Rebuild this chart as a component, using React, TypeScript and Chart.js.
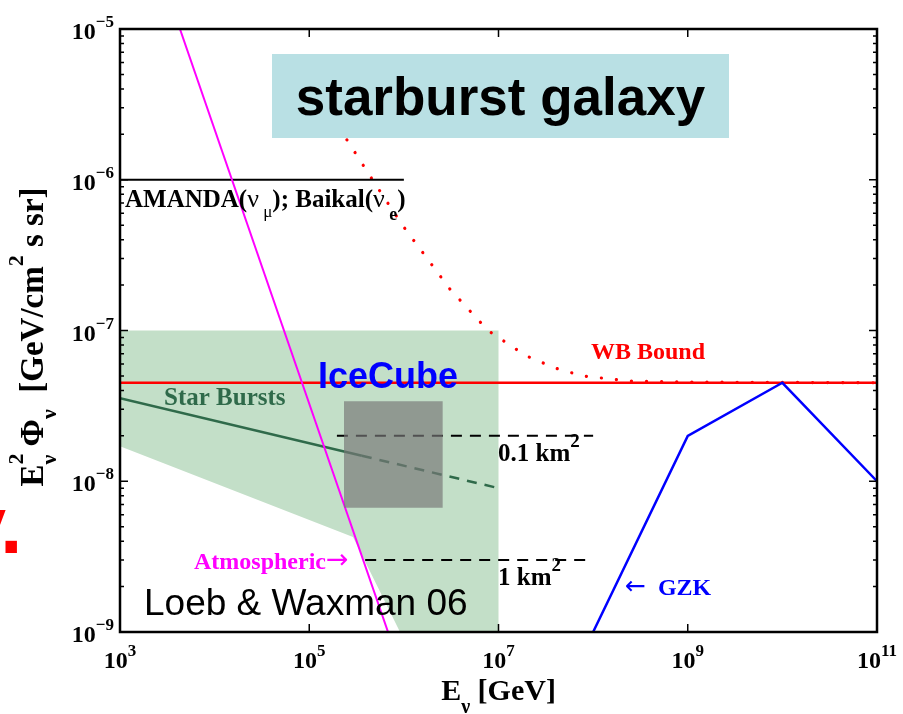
import React, { useEffect, useRef } from "react";
import { Chart, registerables } from "chart.js";

Chart.register(...registerables);

// ---- axes ----
const xMin = 1e3;
const xMax = 1e11;
const yMin = 1e-9;
const yMax = 1e-5;
const xTickExponents = [3, 5, 7, 9, 11];
const yTickExponents = [-9, -8, -7, -6, -5];
const yMinorMultipliers = [2, 3, 4, 5, 6, 7, 8, 9];

// ---- series (E in GeV, E^2 Phi in GeV/cm^2 s sr) ----
const iceCubeRegionE = [1e3, 1e7, 1e7, 9.1e5, 2.9e5, 1e3];
const iceCubeRegionFlux = [1e-7, 1e-7, 1e-9, 1e-9, 4.27e-9, 1.71e-8];

const wbBoundE = [1e3, 1e11];
const wbBoundFlux = [4.5e-8, 4.5e-8];

const wbDottedE = [2.5e5, 4.96e5, 9.8e5, 3.07e6, 7.74e6, 1.95e7, 3.96e7, 7.8e7, 2.45e8, 1e9, 1e11];
const wbDottedFlux = [1.84e-6, 9.4e-7, 4.93e-7, 1.88e-7, 1.0e-7, 6.8e-8, 5.64e-8, 4.99e-8, 4.62e-8, 4.55e-8, 4.5e-8];

const amandaE = [1e3, 1e6];
const amandaFlux = [1e-6, 1e-6];

const km01E = [1.96e5, 1e8];
const km01Flux = [2.0e-8, 2.0e-8];

const km1E = [3.9e5, 1e8];
const km1Flux = [3.0e-9, 3.0e-9];

const starBurstSolidE = [1e3, 3.6e5];
const starBurstSolidFlux = [3.56e-8, 1.476e-8];
const starBurstDashedE = [3.6e5, 1e7];
const starBurstDashedFlux = [1.476e-8, 9.0e-9];

const atmosphericE = [4.3e3, 6.8e5];
const atmosphericFlux = [1e-5, 1e-9];

const gzkE = [1e8, 1e9, 1e10, 1e11];
const gzkFlux = [1e-9, 2e-8, 4.5e-8, 1e-8];

const grayBoxE = [2.33e5, 2.57e6, 2.57e6, 2.33e5];
const grayBoxFlux = [3.4e-8, 3.4e-8, 6.68e-9, 6.68e-9];

const pts = (xs: number[], ys: number[]) => xs.map((x, i) => ({ x, y: ys[i] }));

const SERIF = '"Liberation Serif", "Times New Roman", serif';
const SANS = '"Liberation Sans", Arial, sans-serif';
const ARROW = '"DejaVu Sans", sans-serif';

type Seg = { t: string; size: number; dy?: number; weight?: string; family?: string; noAdv?: boolean };

function segFont(s: Seg) {
  return `${s.weight ?? "bold"} ${s.size}px ${s.family ?? SERIF}`;
}
function richWidth(ctx: CanvasRenderingContext2D, segs: Seg[]) {
  let w = 0;
  for (const s of segs) {
    ctx.font = segFont(s);
    if (!s.noAdv) w += ctx.measureText(s.t).width;
  }
  return w;
}
function drawRich(
  ctx: CanvasRenderingContext2D,
  segs: Seg[],
  x: number,
  y: number,
  color: string,
  align: "left" | "center" | "right" = "left"
) {
  const w = richWidth(ctx, segs);
  let cx = align === "left" ? x : align === "center" ? x - w / 2 : x - w;
  ctx.fillStyle = color;
  ctx.textAlign = "left";
  ctx.textBaseline = "alphabetic";
  for (const s of segs) {
    ctx.font = segFont(s);
    ctx.fillText(s.t, cx, y + (s.dy ?? 0));
    if (!s.noAdv) cx += ctx.measureText(s.t).width;
  }
}

const decorPlugin = {
  id: "decor",
  afterDatasetsDraw(chart: any) {
    const ctx: CanvasRenderingContext2D = chart.ctx;
    const { left, right, top, bottom } = chart.chartArea;
    const xs = chart.scales.x;
    const ys = chart.scales.y;
    ctx.save();

    // title box
    ctx.fillStyle = "#b9e0e4";
    ctx.fillRect(272, 54, 457, 84);
    ctx.fillStyle = "#000";
    ctx.font = `bold 53px ${SANS}`;
    ctx.textAlign = "center";
    ctx.textBaseline = "alphabetic";
    ctx.fillText("starburst galaxy", 500.5, 115);

    // axes box
    ctx.strokeStyle = "#000";
    ctx.lineWidth = 2.5;
    ctx.strokeRect(left, top, right - left, bottom - top);

    // ticks
    ctx.lineWidth = 1.5;
    ctx.beginPath();
    for (const e of xTickExponents) {
      const px = xs.getPixelForValue(Math.pow(10, e));
      ctx.moveTo(px, bottom);
      ctx.lineTo(px, bottom - 8);
      ctx.moveTo(px, top);
      ctx.lineTo(px, top + 8);
    }
    for (const e of yTickExponents) {
      const py = ys.getPixelForValue(Math.pow(10, e));
      ctx.moveTo(left, py);
      ctx.lineTo(left + 8, py);
      ctx.moveTo(right, py);
      ctx.lineTo(right - 8, py);
      if (e < -5) {
        for (const m of yMinorMultipliers) {
          const pm = ys.getPixelForValue(m * Math.pow(10, e));
          ctx.moveTo(left, pm);
          ctx.lineTo(left + 4, pm);
          ctx.moveTo(right, pm);
          ctx.lineTo(right - 4, pm);
        }
      }
    }
    ctx.stroke();

    // tick labels
    for (const e of xTickExponents) {
      const px = xs.getPixelForValue(Math.pow(10, e));
      drawRich(ctx, [{ t: "10", size: 24 }, { t: String(e), size: 17, dy: -12 }], px, 668, "#000", "center");
    }
    for (const e of yTickExponents) {
      const py = ys.getPixelForValue(Math.pow(10, e));
      drawRich(ctx, [{ t: "10", size: 24 }, { t: "\u2212" + String(-e), size: 17, dy: -12 }], 114, py + 10, "#000", "right");
    }

    // x title
    drawRich(
      ctx,
      [{ t: "E", size: 30 }, { t: "\u03bd", size: 20, dy: 13 }, { t: " [GeV]", size: 30 }],
      (left + right) / 2,
      700,
      "#000",
      "center"
    );

    // y title
    ctx.save();
    ctx.translate(43, 337);
    ctx.rotate(-Math.PI / 2);
    drawRich(
      ctx,
      [
        { t: "E", size: 33 },
        { t: "2", size: 22, dy: -20, noAdv: true },
        { t: "\u03bd", size: 22, dy: 13 },
        { t: " \u03a6", size: 33 },
        { t: "\u03bd", size: 22, dy: 13 },
        { t: "  [GeV/cm", size: 33 },
        { t: "2", size: 22, dy: -20 },
        { t: " s sr]", size: 33 },
      ],
      0,
      0,
      "#000",
      "center"
    );
    ctx.restore();

    // annotations
    drawRich(
      ctx,
      [
        { t: "AMANDA(", size: 25 },
        { t: "\u03bd", size: 26, weight: "normal" },
        { t: " \u03bc", size: 17, dy: 10, weight: "normal" },
        { t: "); Baikal(", size: 25 },
        { t: "\u03bd", size: 26, weight: "normal" },
        { t: " e", size: 18, dy: 13 },
        { t: ")", size: 25 },
      ],
      125,
      207,
      "#000"
    );
    drawRich(ctx, [{ t: "WB Bound", size: 24 }], 591, 359, "#ff0000");
    drawRich(ctx, [{ t: "IceCube", size: 36, family: SANS }], 318, 388, "#0000ff");
    drawRich(ctx, [{ t: "Star Bursts", size: 25 }], 164, 405, "#2f6a4a");
    drawRich(ctx, [{ t: "0.1 km", size: 25 }, { t: "2", size: 19, dy: -14 }], 498, 461, "#000");
    drawRich(ctx, [{ t: "1 km", size: 25 }, { t: "2", size: 19, dy: -14 }], 498, 585, "#000");
    drawRich(
      ctx,
      [{ t: "Atmospheric", size: 24 }, { t: "\u2192", size: 27, weight: "normal", family: ARROW, dy: -1 }],
      194,
      569,
      "#ff00ff"
    );
    drawRich(
      ctx,
      [{ t: "\u2190", size: 25, weight: "normal", family: ARROW, dy: -1 }, { t: "  GZK", size: 24 }],
      625,
      595,
      "#0000ff"
    );
    drawRich(ctx, [{ t: "Loeb & Waxman 06", size: 37, family: SANS, weight: "normal" }], 144, 615, "#000");

    // cut-off red text at the left page edge
    ctx.fillStyle = "#ff0000";
    ctx.font = `bold 81px ${SANS}`;
    ctx.textAlign = "left";
    ctx.fillText("y.", -39, 553);

    ctx.restore();
  },
};

export default function App() {
  const ref = useRef<HTMLCanvasElement | null>(null);
  useEffect(() => {
    if (!ref.current) return;
    const line = (data: any, color: string, width: number, order: number, extra: any = {}) => ({
      data,
      borderColor: color,
      borderWidth: width,
      pointRadius: 0,
      fill: false,
      order,
      ...extra,
    });
    const chart = new Chart(ref.current, {
      type: "line",
      data: {
        datasets: [
          {
            data: pts(iceCubeRegionE, iceCubeRegionFlux),
            borderColor: "rgba(0,0,0,0)",
            borderWidth: 0,
            backgroundColor: "#c3dfc8",
            fill: "shape",
            pointRadius: 0,
            order: 100,
          },
          line(pts(wbBoundE, wbBoundFlux), "#ff0000", 2.5, 60),
          line(pts(wbDottedE, wbDottedFlux), "#ff0000", 3.2, 61, { borderDash: [0.1, 15], borderCapStyle: "round" }),
          line(pts(amandaE, amandaFlux), "#000000", 2, 50),
          line(pts(km01E, km01Flux), "#000000", 2, 50, { borderDash: [11, 8] }),
          line(pts(km1E, km1Flux), "#000000", 2, 50, { borderDash: [11, 8] }),
          line(pts(starBurstSolidE, starBurstSolidFlux), "#2f6a4a", 2.5, 40),
          line(pts(starBurstDashedE, starBurstDashedFlux), "#2f6a4a", 2.5, 40, { borderDash: [10, 8] }),
          line(pts(atmosphericE, atmosphericFlux), "#ff00ff", 2, 30),
          line(pts(gzkE, gzkFlux), "#0000ff", 2.5, 30),
          {
            data: pts(grayBoxE, grayBoxFlux),
            borderColor: "rgba(0,0,0,0)",
            borderWidth: 0,
            backgroundColor: "rgba(119,119,119,0.68)",
            fill: "shape",
            pointRadius: 0,
            order: 1,
          },
        ],
      },
      options: {
        animation: false,
        responsive: false,
        devicePixelRatio: 1,
        events: [],
        layout: { padding: { left: 120, top: 29, right: 26, bottom: 82 } },
        plugins: { legend: { display: false }, tooltip: { enabled: false }, title: { display: false } },
        elements: { point: { radius: 0 }, line: { tension: 0 } },
        scales: {
          x: { type: "logarithmic", min: xMin, max: xMax, display: false },
          y: { type: "logarithmic", min: yMin, max: yMax, display: false },
        },
      } as any,
      plugins: [decorPlugin],
    });
    return () => chart.destroy();
  }, []);
  return (
    <div style={{ position: "absolute", left: 0, top: 0, width: 903, height: 714, background: "#fff" }}>
      <canvas ref={ref} width={903} height={714} style={{ display: "block" }} />
    </div>
  );
}
